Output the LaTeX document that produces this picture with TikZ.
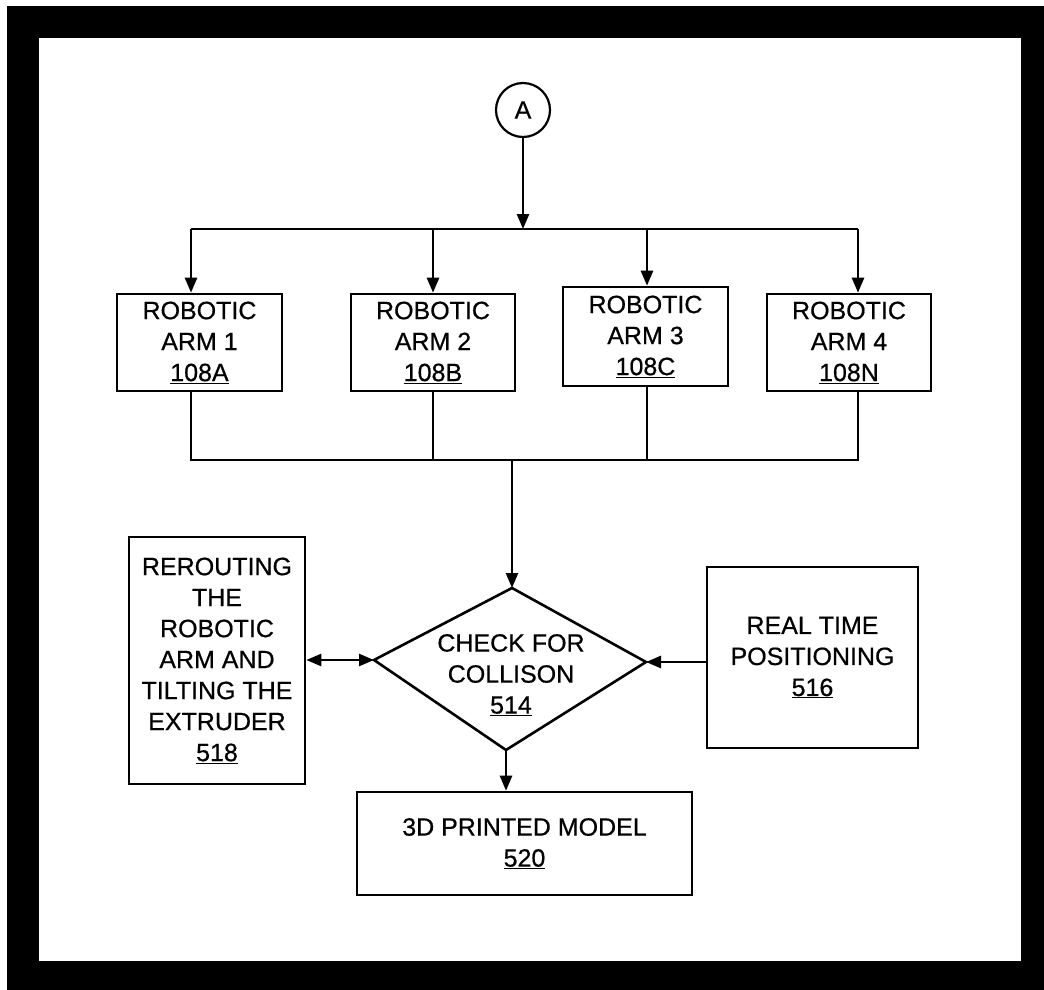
\documentclass[tikz,border=0pt]{standalone}
\usepackage{fontspec}
\setmainfont{Liberation Sans}[UprightFeatures={FakeBold=0.6}]
\usetikzlibrary{arrows.meta}
\begin{document}
\begin{tikzpicture}[x=1pt,y=-1pt,
  every node/.style={font=\fontsize{25}{31}\selectfont, align=center},
  box/.style={draw, line width=2.6pt, inner sep=0pt},
  wire/.style={line width=2.6pt},
  arr/.style={wire, -{Triangle[length=15pt,width=12pt]}},
  arrboth/.style={wire, {Triangle[length=15pt,width=12pt]}-{Triangle[length=15pt,width=12pt]}}]
\useasboundingbox (0,0) rectangle (1044,990);
% framed page
\fill[white] (0,0) rectangle (1044,990);
\fill[black] (7,6) rectangle (1044,990);
\fill[white] (39,38) rectangle (1021,961);

% connector A
\node[draw, circle, line width=2.2pt, minimum size=54pt, inner sep=0pt] (A) at (523,110) {A};

% robotic arms
\node[box, minimum width=165pt, minimum height=97pt] (a1) at (199.5,342.5) {ROBOTIC\\ARM 1\\\underline{108A}};
\node[box, minimum width=164pt, minimum height=97pt] (a2) at (433,342.5) {ROBOTIC\\ARM 2\\\underline{108B}};
\node[box, minimum width=165pt, minimum height=99pt] (a3) at (645.5,336.5) {ROBOTIC\\ARM 3\\\underline{108C}};
\node[box, minimum width=164pt, minimum height=97pt] (a4) at (849,342.5) {ROBOTIC\\ARM 4\\\underline{108N}};

% side and output boxes
\node[box, minimum width=176pt, minimum height=247pt] (r518) at (217,660.5) {REROUTING\\THE\\ROBOTIC\\ARM AND\\TILTING THE\\EXTRUDER\\\underline{518}};
\node[box, minimum width=211pt, minimum height=181pt] (p516) at (812.5,657.5) {REAL TIME\\POSITIONING\\\underline{516}};
\node[box, minimum width=335pt, minimum height=103pt] (m520) at (524.5,843.5) {3D PRINTED MODEL\\\underline{520}};

% decision diamond
\coordinate (dT) at (512,588);
\coordinate (dR) at (646,662);
\coordinate (dB) at (506,750);
\coordinate (dL) at (374,660);
\draw[wire, line join=miter] (dT) -- (dR) -- (dB) -- (dL) -- cycle;
\node (chk) at (511,675) {CHECK FOR\\COLLISON\\\underline{514}};

% fan-out bus
\coordinate (t0) at (523,229);
\coordinate (t1) at (191,229);
\coordinate (t2) at (433,229);
\coordinate (t3) at (647,229);
\coordinate (t4) at (858,229);
\draw[arr] (A.south) -- (t0);
\draw[wire] (t1) -- (t4);
\draw[arr] (t1) -- (t1 |- a1.north);
\draw[arr] (t2) -- (t2 |- a2.north);
\draw[arr] (t3) -- (t3 |- a3.north);
\draw[arr] (t4) -- (t4 |- a4.north);

% fan-in bus
\coordinate (b1) at (191,460);
\coordinate (b2) at (433,460);
\coordinate (b3) at (647,460);
\coordinate (b4) at (858,460);
\coordinate (bm) at (512,460);
\draw[wire] (b1 |- a1.south) -- (b1) -- (b4) -- (b4 |- a4.south);
\draw[wire] (b2 |- a2.south) -- (b2);
\draw[wire] (b3 |- a3.south) -- (b3);
\draw[arr] (bm) -- (dT);

% links around the decision
\draw[arrboth] (r518.east |- dL) -- (dL);
\draw[arr] (p516.west |- dR) -- (dR);
\draw[arr] (dB) -- (dB |- m520.north);
\end{tikzpicture}
\end{document}
